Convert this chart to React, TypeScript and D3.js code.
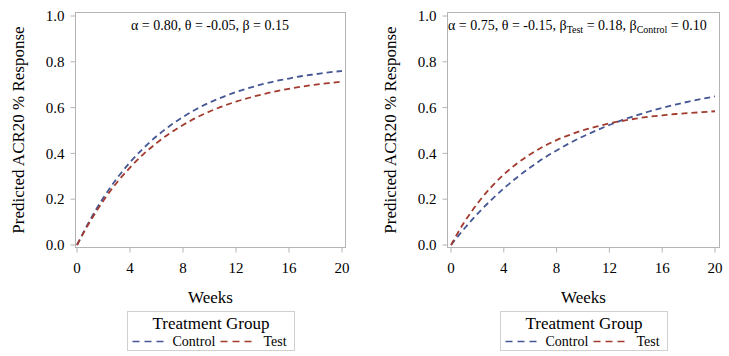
import React from "react";
import * as d3 from "d3";

const weeks = [0, 1, 2, 3, 4, 5, 6, 7, 8, 9, 10, 11, 12, 13, 14, 15, 16, 17, 18, 19, 20];
const leftControl = [0, 0.111, 0.207, 0.29, 0.361, 0.422, 0.475, 0.52, 0.559, 0.593, 0.622, 0.646, 0.668, 0.686, 0.702, 0.716, 0.727, 0.738, 0.746, 0.754, 0.76];
const leftTest = [0, 0.104, 0.194, 0.272, 0.338, 0.396, 0.445, 0.488, 0.524, 0.556, 0.583, 0.606, 0.626, 0.643, 0.658, 0.671, 0.682, 0.692, 0.7, 0.707, 0.713];
const rightControl = [0, 0.071, 0.136, 0.194, 0.247, 0.295, 0.338, 0.378, 0.413, 0.445, 0.474, 0.5, 0.524, 0.546, 0.565, 0.583, 0.599, 0.613, 0.626, 0.638, 0.649];
const rightTest = [0, 0.099, 0.181, 0.25, 0.308, 0.356, 0.396, 0.43, 0.458, 0.481, 0.501, 0.517, 0.531, 0.542, 0.552, 0.56, 0.566, 0.572, 0.576, 0.58, 0.584];
const xTicks = [0, 4, 8, 12, 16, 20];
const yTicks = [0, 0.2, 0.4, 0.6, 0.8, 1.0];
const seriesNames = ["Control", "Test"];

const BLUE = "#445694";
const RED = "#A23A2E";
const FRAME = "#b4b4b4";
const FONT = "Liberation Serif, Times New Roman, Times, serif";
const TS: React.CSSProperties = { fontFamily: FONT };

type PanelProps = {
  fx0: number; fx1: number; x0: number; x1: number;
  control: number[]; test: number[];
  annotation: React.ReactNode;
  legendX: number; legendW: number;
};

function Panel({ fx0, fx1, x0, x1, control, test, annotation, legendX, legendW }: PanelProps) {
  const fy0 = 12.5, fy1 = 247.5;
  const x = d3.scaleLinear().domain([0, 20]).range([x0, x1]);
  const y = d3.scaleLinear().domain([0, 1]).range([245, 16]);
  const line = d3.line<number>().x((_, i) => x(weeks[i])).y(d => y(d)).curve(d3.curveMonotoneX);
  const midX = (fx0 + fx1) / 2;
  const ly = 341.5;
  return (
    <g fill="#000">
      <rect x={fx0} y={fy0} width={fx1 - fx0} height={fy1 - fy0} fill="none" stroke={FRAME} strokeWidth={1} />
      {yTicks.map(t => (
        <g key={"y" + t}>
          <line x1={fx0 - 5} x2={fx0} y1={y(t)} y2={y(t)} stroke={FRAME} />
          <text style={TS} x={fx0 - 11} y={y(t)} dy="0.35em" textAnchor="end" fontSize={15}>{t.toFixed(1)}</text>
        </g>
      ))}
      {xTicks.map(t => (
        <g key={"x" + t}>
          <line x1={x(t)} x2={x(t)} y1={fy1} y2={fy1 + 5} stroke={FRAME} />
          <text style={TS} x={x(t)} y={268} dy="0.35em" textAnchor="middle" fontSize={15}>{t}</text>
        </g>
      ))}
      <text style={TS} x={midX} y={297} dy="0.35em" textAnchor="middle" fontSize={17}>Weeks</text>
      <text style={TS} transform={`translate(${fx0 - 57},${(fy0 + fy1) / 2}) rotate(-90)`} textAnchor="middle" dy="0.35em" fontSize={17}>Predicted ACR20 % Response</text>
      <path d={line(control) || ""} fill="none" stroke={BLUE} strokeWidth={1.8} strokeDasharray="6,4" />
      <path d={line(test) || ""} fill="none" stroke={RED} strokeWidth={1.8} strokeDasharray="6,4" />
      {annotation}
      <rect x={legendX} y={311.5} width={legendW} height={39} fill="#fff" stroke="#d0d0d0" />
      <text style={TS} x={legendX + legendW / 2} y={323} dy="0.35em" textAnchor="middle" fontSize={17}>Treatment Group</text>
      <line x1={legendX + 5} x2={legendX + 36} y1={ly} y2={ly} stroke={BLUE} strokeWidth={1.6} strokeDasharray="7,5" />
      <text style={TS} x={legendX + 45} y={ly} dy="0.35em" fontSize={14}>{seriesNames[0]}</text>
      <line x1={legendX + 93} x2={legendX + 128} y1={ly} y2={ly} stroke={RED} strokeWidth={1.6} strokeDasharray="7,5" />
      <text style={TS} x={legendX + 136} y={ly} dy="0.35em" fontSize={14}>{seriesNames[1]}</text>
    </g>
  );
}

export default function App() {
  return (
    <svg width={729} height={356} style={{ position: "absolute", left: 0, top: 0, background: "#fff", fontFamily: FONT }}>
      <Panel
        fx0={75.5} fx1={345.5} x0={77} x1={342}
        control={leftControl} test={leftTest}
        legendX={127.5} legendW={167}
        annotation={
          <text style={TS} x={210} y={25} dy="0.35em" textAnchor="middle" fontSize={14}>α = 0.80, θ = -0.05, β = 0.15</text>
        }
      />
      <Panel
        fx0={447.5} fx1={719.5} x0={451} x1={715}
        control={rightControl} test={rightTest}
        legendX={500.5} legendW={167}
        annotation={
          <text style={TS} x={448} y={25} dy="0.35em" fontSize={14}>
            α = 0.75, θ = -0.15, β<tspan fontSize={10} dy="3">Test</tspan><tspan dy="-3"> = 0.18, β</tspan><tspan fontSize={10} dy="3">Control</tspan><tspan dy="-3"> = 0.10</tspan>
          </text>
        }
      />
    </svg>
  );
}
